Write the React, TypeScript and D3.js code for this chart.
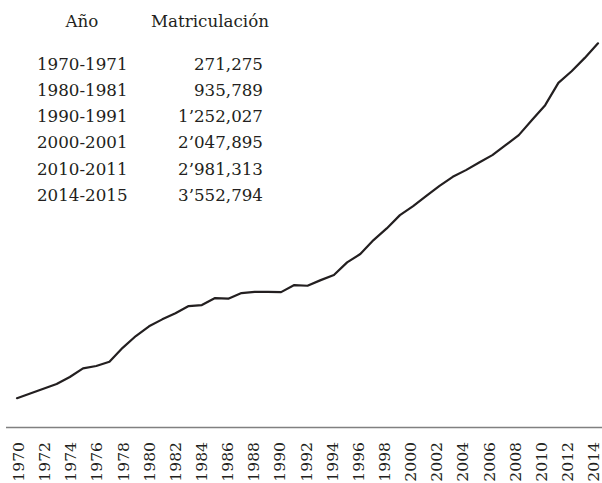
import React from "react";
import * as d3 from "d3";

const years: number[] = [
  1970, 1971, 1972, 1973, 1974, 1975, 1976, 1977, 1978, 1979,
  1980, 1981, 1982, 1983, 1984, 1985, 1986, 1987, 1988, 1989,
  1990, 1991, 1992, 1993, 1994, 1995, 1996, 1997, 1998, 1999,
  2000, 2001, 2002, 2003, 2004, 2005, 2006, 2007, 2008, 2009,
  2010, 2011, 2012, 2013, 2014,
];

// Matrícula (miles)
const enrollment: number[] = [
  271, 314, 359, 402, 467, 547, 569, 608, 737, 846,
  936, 1000, 1056, 1123, 1132, 1197, 1191, 1243, 1255, 1255,
  1252, 1317, 1311, 1363, 1410, 1527, 1604, 1733, 1841, 1964,
  2048, 2143, 2235, 2318, 2380, 2451, 2519, 2611, 2704, 2843,
  2981, 3187, 3295, 3418, 3553,
];

const tickYears: number[] = [
  1970, 1972, 1974, 1976, 1978, 1980, 1982, 1984, 1986, 1988, 1990,
  1992, 1994, 1996, 1998, 2000, 2002, 2004, 2006, 2008, 2010, 2012, 2014,
];

const tableHeaders: string[] = ["Año", "Matriculación"];
const tablePeriods: string[] = [
  "1970-1971", "1980-1981", "1990-1991", "2000-2001", "2010-2011", "2014-2015",
];
const tableValues: string[] = [
  "271,275", "935,789", "1’252,027", "2’047,895", "2’981,313", "3’552,794",
];

const W = 602;
const H = 483;
const FONT = "'DejaVu Serif', serif";

export default function App() {
  const x = d3.scaleLinear().domain([1970, 2014]).range([17, 598]);
  const xLabel = x.copy().range([18.3, 593.5]);
  const y = d3.scaleLinear().domain([0, 3553]).range([427.5, 43.3]);
  const line = d3
    .line<number>()
    .x((_, i) => x(years[i]))
    .y((d) => y(d))
    .curve(d3.curveLinear);

  const rowY = d3
    .scalePoint<string>()
    .domain(tablePeriods)
    .range([69.7, 201]);

  return (
    <svg
      width={W}
      height={H}
      style={{ position: "absolute", left: 0, top: 0, background: "#fff" }}
      fontFamily={FONT}
    >
      {/* table */}
      <g fill="#231f20" fontSize={16.7}>
        <text x={82} y={26.7} textAnchor="middle">{tableHeaders[0]}</text>
        <text x={210} y={26.7} textAnchor="middle">{tableHeaders[1]}</text>
        {tablePeriods.map((p, i) => (
          <g key={p}>
            <text x={37} y={rowY(p)}>{p}</text>
            <text x={263} y={rowY(p)} textAnchor="end">{tableValues[i]}</text>
          </g>
        ))}
      </g>

      {/* axis baseline */}
      <line x1={6} x2={W} y1={y(0)} y2={y(0)} stroke="#808080" strokeWidth={1.5} />

      {/* data line */}
      <path
        d={line(enrollment) || ""}
        fill="none"
        stroke="#231f20"
        strokeWidth={2.2}
        strokeLinejoin="round"
        strokeLinecap="round"
      />

      {/* tick labels */}
      <g fill="#231f20" fontSize={15.6}>
        {tickYears.map((t) => (
          <text
            key={t}
            transform={`translate(${xLabel(t)},442) rotate(-90)`}
            textAnchor="end"
            dy="0.36em"
          >
            {t}
          </text>
        ))}
      </g>
    </svg>
  );
}
